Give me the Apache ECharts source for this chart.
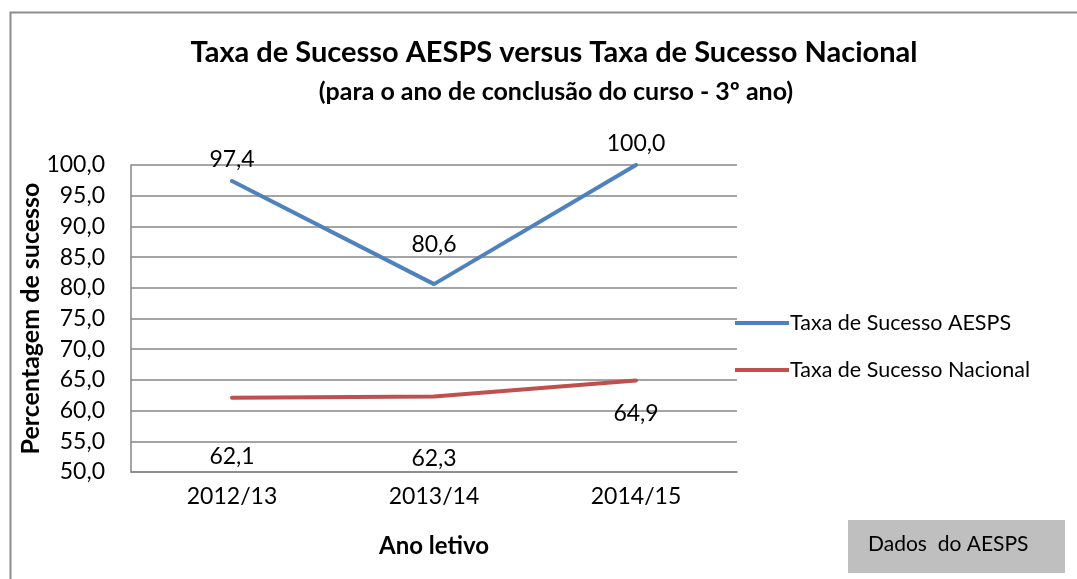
<!DOCTYPE html>
<html>
<head>
<meta charset="utf-8">
<script src="https://cdn.jsdelivr.net/npm/echarts@6/dist/echarts.min.js"></script>
<style>
html,body{margin:0;padding:0;background:#fff;}
#chart{width:1077px;height:579px;}
</style>
</head>
<body>
<div id="chart"></div>
<script>
const categories = ['2012/13', '2013/14', '2014/15'];
const aespsValues = [97.4, 80.6, 100.0];
const nacionalValues = [62.1, 62.3, 64.9];
const seriesNames = ['Taxa de Sucesso AESPS', 'Taxa de Sucesso Nacional'];
const titleText = 'Taxa de Sucesso AESPS versus Taxa de Sucesso Nacional';
const subtitleText = '(para o ano de conclusão do curso - 3º ano)';
const yAxisName = 'Percentagem de sucesso';
const xAxisName = 'Ano letivo';
const noteText = 'Dados  do AESPS';
// label vertical offsets (px) per point, as placed in the original
const aespsLabelOffsets = [0, -18, 0];
const nacionalLabelOffsets = [37, 41, 12];

const FONT = 'Lato, "Open Sans", sans-serif';
const fmt = v => Number(v).toFixed(1).replace('.', ',');

function buildData(values, offsets) {
  return values.map((v, i) => ({ value: v, label: { offset: [0, offsets[i]] } }));
}

const chart = echarts.init(document.getElementById('chart'), null, { renderer: 'canvas' });
chart.setOption({
  backgroundColor: '#ffffff',
  animation: false,
  textStyle: { fontFamily: FONT },
  title: [
    { text: titleText, left: 549, top: 33, textAlign: 'center',
      textStyle: { fontFamily: FONT, fontSize: 29, fontWeight: 'bold', color: '#000' } },
    { text: subtitleText, left: 551, top: 74, textAlign: 'center',
      textStyle: { fontFamily: FONT, fontSize: 25, fontWeight: 'bold', color: '#000' } }
  ],
  grid: { left: 131, right: 340, top: 165, bottom: 107, containLabel: false },
  legend: {
    orient: 'vertical', left: 730, top: 307, itemGap: 25,
    icon: 'rect', itemWidth: 54, itemHeight: 4,
    textStyle: { fontFamily: FONT, fontSize: 21.5, color: '#000', padding: [0, 0, 0, -4] },
    data: [
      { name: seriesNames[0], itemStyle: { color: '#4f81bd', opacity: 1 } },
      { name: seriesNames[1], itemStyle: { color: '#c0504d', opacity: 1 } }
    ]
  },
  xAxis: {
    type: 'category', data: categories, boundaryGap: true,
    name: xAxisName, nameLocation: 'middle', nameGap: 62,
    nameTextStyle: { fontFamily: FONT, fontSize: 24, fontWeight: 'bold', color: '#000' },
    axisLine: { show: true, lineStyle: { color: '#868686', width: 1.5 } },
    axisTick: { show: false },
    axisLabel: { fontFamily: FONT, fontSize: 23, color: '#000', margin: 13 },
    splitLine: { show: false }
  },
  yAxis: {
    type: 'value', min: 50, max: 100, interval: 5,
    name: yAxisName, nameLocation: 'middle', nameGap: 88, nameMoveOverlap: false,
    nameTextStyle: { fontFamily: FONT, fontSize: 25, fontWeight: 'bold', color: '#000' },
    axisLine: { show: true, lineStyle: { color: '#868686', width: 1.5 } },
    axisTick: { show: false },
    axisLabel: { fontFamily: FONT, fontSize: 23, color: '#000', margin: 26, formatter: fmt },
    splitLine: { show: true, lineStyle: { color: '#868686', width: 1.5 } }
  },
  series: [
    {
      name: seriesNames[0], type: 'line', data: buildData(aespsValues, aespsLabelOffsets),
      symbol: 'circle', symbolSize: 0, showSymbol: true,
      color: '#4f81bd',
      lineStyle: { color: '#4f81bd', width: 4, cap: 'round' },
      label: { show: true, position: 'top', distance: 10, fontFamily: FONT, fontSize: 23, color: '#000', formatter: p => fmt(p.value) }
    },
    {
      name: seriesNames[1], type: 'line', data: buildData(nacionalValues, nacionalLabelOffsets),
      symbol: 'circle', symbolSize: 0, showSymbol: true,
      color: '#c0504d',
      lineStyle: { color: '#c0504d', width: 4, cap: 'round' },
      label: { show: true, position: 'bottom', distance: 10, fontFamily: FONT, fontSize: 23, color: '#000', formatter: p => fmt(p.value) }
    }
  ],
  graphic: [
    { type: 'rect', left: 8, top: 10, silent: true, z: -10,
      shape: { width: 1100, height: 600 },
      style: { fill: 'none', stroke: '#8c8c8c', lineWidth: 2 } },
    { type: 'rect', left: 848, top: 520, shape: { width: 217, height: 53 },
      style: { fill: '#bfbfbf' } },
    { type: 'text', left: 868, top: 534,
      style: { text: noteText, fontFamily: FONT, fontSize: 21, fill: '#000' } }
  ]
});
</script>
</body>
</html>
